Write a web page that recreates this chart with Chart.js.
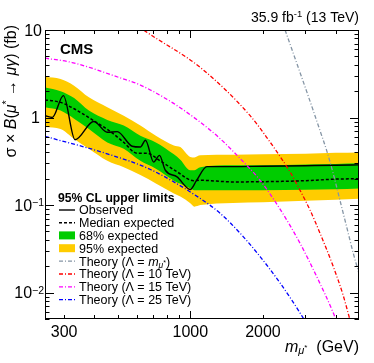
<!DOCTYPE html>
<html>
<head>
<meta charset="utf-8">
<script src="https://cdn.jsdelivr.net/npm/chart.js@4.4.1/dist/chart.umd.min.js"></script>
<style>
  html, body { margin: 0; padding: 0; background: #fff; }
</style>
</head>
<body>
<canvas id="myChart" width="374" height="363"></canvas>
<script>
// excited muon limits (GeV, fb)
const bandMass = [250, 290, 330, 380, 453, 530, 621, 720, 855, 909, 1000, 1040, 1100, 1500, 2000, 3000, 4000, 5000];
const band95Up = [2.92, 2.75, 2.31, 1.70, 1.31, 1.05, 0.81, 0.62, 0.48, 0.46, 0.355, 0.35, 0.37, 0.375, 0.38, 0.385, 0.395, 0.40];
const band68Up = [2.2, 2.0, 1.67, 1.2, 0.94, 0.81, 0.62, 0.52, 0.38, 0.33, 0.25, 0.25, 0.27, 0.285, 0.285, 0.29, 0.295, 0.30];
const band68Lo = [1.31, 1.2, 0.97, 0.74, 0.52, 0.44, 0.32, 0.26, 0.19, 0.175, 0.155, 0.148, 0.148, 0.148, 0.148, 0.15, 0.152, 0.155];
const band95Lo = [0.78, 0.74, 0.57, 0.44, 0.32, 0.27, 0.22, 0.177, 0.136, 0.125, 0.105, 0.096, 0.1, 0.106, 0.108, 0.112, 0.115, 0.118];

const medMass = [250, 290, 330, 398, 467, 530, 603, 662, 751, 881, 1032, 1100, 1500, 2000, 3000, 4000, 5000];
const medLimit = [1.59, 1.49, 1.26, 0.92, 0.69, 0.52, 0.39, 0.39, 0.32, 0.24, 0.19, 0.192, 0.184, 0.185, 0.19, 0.198, 0.20];

const obsMass = [250, 268, 298, 333, 398, 453, 498, 574, 621, 652, 705, 745, 788, 881, 1000, 1060, 1172, 1500, 2000, 3000, 4000, 5000];
const obsLimit = [1.05, 1.0, 1.78, 0.558, 0.90, 0.68, 0.69, 0.47, 0.46, 0.55, 0.31, 0.37, 0.25, 0.21, 0.151, 0.19, 0.275, 0.275, 0.278, 0.282, 0.285, 0.288];

const thMassLm = [2400, 2470, 3232, 3445, 3671, 3910, 4168, 4441, 4729, 5000];
const thLm = [12.5, 10, 1.2, 0.711, 0.422, 0.229, 0.114, 0.057, 0.0285, 0.0165];
const thMass10 = [600, 641, 1100, 1770, 2141, 2354, 2590, 2848, 3133, 3445, 3910, 4300, 4510, 4700];
const th10 = [11.5, 10, 3.73, 1.05, 0.524, 0.36, 0.239, 0.148, 0.0878, 0.048, 0.0199, 0.0093, 0.0058, 0.0038];
const thMass15 = [250, 324, 514, 621, 853, 1100, 1330, 1609, 1946, 2354, 2848, 3338, 3910, 4200];
const th15 = [4.77, 4.25, 2.83, 2.35, 1.45, 0.884, 0.573, 0.340, 0.192, 0.09, 0.0367, 0.0153, 0.00588, 0.0035];
const thMass25 = [250, 453, 684, 1100, 1330, 1609, 1946, 2354, 2848, 3100];
const th25 = [0.61, 0.385, 0.255, 0.119, 0.0805, 0.0477, 0.0258, 0.0129, 0.00588, 0.004];

const xTickLabels = [300, 1000, 2000];
const yTickLabels = [0.01, 0.1, 1, 10];

const SANS = '"Liberation Sans", Arial, Helvetica, sans-serif';
const DASHDOT = [4, 2, 1, 2];

const pts = (xs, ys) => xs.map((x, i) => ({ x: x, y: ys[i] }));

const band = (data, color, fill, order) => ({
    data: data,
    borderWidth: 0,
    borderColor: 'rgba(0,0,0,0)',
    backgroundColor: color,
    fill: fill,
    order: order,
});
const theory = (data, color) => ({
    data: data,
    borderColor: color,
    borderWidth: 1.3,
    borderDash: DASHDOT,
    fill: false,
    order: 0,
});

// draw text made of several pieces with different fonts / offsets
function drawRuns(ctx, runs, x, y, align) {
    let w = 0;
    runs.forEach(r => { ctx.font = r.font; r.w = ctx.measureText(r.t).width; w += r.w; });
    let cx = align === 'right' ? x - w : (align === 'center' ? x - w / 2 : x);
    runs.forEach(r => {
        ctx.font = r.font;
        ctx.fillText(r.t, cx, y + (r.dy || 0));
        cx += r.w;
    });
}
const f = (size, style) => (style ? style + ' ' : '') + size + 'px ' + SANS;

const theoryLabel = (lam) => lam === null
    ? [{ t: 'Theory (Λ = ', font: f(12.5) }, { t: 'm', font: f(12.5, 'italic') },
       { t: 'μ', font: f(8.5, 'italic'), dy: 2 }, { t: '*', font: f(7), dy: -1 }, { t: ')', font: f(12.5) }]
    : [{ t: 'Theory (Λ = ' + lam + ' TeV)', font: f(12.5) }];

const legendRows = [
    { ds: 5, kind: 'line', runs: [{ t: 'Observed', font: f(12.5) }] },
    { ds: 4, kind: 'line', runs: [{ t: 'Median expected', font: f(12.5) }] },
    { ds: 2, kind: 'box', runs: [{ t: '68% expected', font: f(12.5) }] },
    { ds: 0, kind: 'box', runs: [{ t: '95% expected', font: f(12.5) }] },
    { ds: 6, kind: 'line', runs: theoryLabel(null) },
    { ds: 7, kind: 'line', runs: theoryLabel(10) },
    { ds: 8, kind: 'line', runs: theoryLabel(15) },
    { ds: 9, kind: 'line', runs: theoryLabel(25) },
];

const decorations = {
    id: 'decorations',
    afterDraw(chart) {
        const ctx = chart.ctx;
        const a = chart.chartArea;
        const sx = chart.scales.x, sy = chart.scales.y;
        ctx.save();
        ctx.fillStyle = '#000';
        ctx.strokeStyle = '#000';
        ctx.lineWidth = 1;
        ctx.textBaseline = 'alphabetic';

        // frame
        ctx.strokeRect(Math.round(a.left) + 0.5, Math.round(a.top) + 0.5,
            Math.round(a.right - a.left) - 1, Math.round(a.bottom - a.top) - 1);

        // ticks, pointing inwards on all four sides
        ctx.beginPath();
        const xt = [300, 400, 500, 600, 700, 800, 900, 1000, 2000, 3000, 4000];
        xt.forEach(v => {
            const px = Math.round(sx.getPixelForValue(v)) + 0.5;
            const len = v === 1000 ? 8 : 4;
            ctx.moveTo(px, a.bottom); ctx.lineTo(px, a.bottom - len);
            ctx.moveTo(px, a.top); ctx.lineTo(px, a.top + len);
        });
        [0.001, 0.01, 0.1, 1].forEach(dec => {
            for (let k = 1; k <= 9; k++) {
                const v = dec * k;
                if (v < sy.min || v > sy.max) continue;
                const py = Math.round(sy.getPixelForValue(v)) + 0.5;
                const len = k === 1 ? 9 : 4.5;
                ctx.moveTo(a.left, py); ctx.lineTo(a.left + len, py);
                ctx.moveTo(a.right, py); ctx.lineTo(a.right - len, py);
            }
        });
        ctx.moveTo(a.left, sy.getPixelForValue(10) + 0.5); ctx.lineTo(a.left + 9, sy.getPixelForValue(10) + 0.5);
        ctx.moveTo(a.right, sy.getPixelForValue(10) + 0.5); ctx.lineTo(a.right - 9, sy.getPixelForValue(10) + 0.5);
        ctx.stroke();

        // tick labels
        xTickLabels.forEach(v => {
            drawRuns(ctx, [{ t: String(v), font: f(16) }], sx.getPixelForValue(v), 337, 'center');
        });
        yTickLabels.forEach(v => {
            const py = sy.getPixelForValue(v) + 5.7;
            if (v === 10) drawRuns(ctx, [{ t: '10', font: f(16) }], 42, py, 'right');
            else if (v === 1) drawRuns(ctx, [{ t: '1', font: f(16) }], 40, py, 'right');
            else {
                const e = Math.round(Math.log10(v));
                drawRuns(ctx, [{ t: '10', font: f(16) }, { t: '\u2212' + (-e), font: f(10.5), dy: -4.5 }], 44, py, 'right');
            }
        });

        // axis titles
        drawRuns(ctx, [
            { t: 'm', font: f(16, 'italic') },
            { t: 'μ', font: f(11, 'italic'), dy: 2 },
            { t: '*', font: f(8), dy: -2 },
            { t: '  (GeV)', font: f(16) },
        ], 359, 351.5, 'right');

        ctx.save();
        ctx.translate(16, 25);
        ctx.rotate(-Math.PI / 2);
        drawRuns(ctx, [
            { t: 'σ × ', font: f(16) },
            { t: 'B', font: f(16, 'italic') },
            { t: '(', font: f(16) },
            { t: 'μ', font: f(16, 'italic') },
            { t: '*', font: f(10.5), dy: -6.5 },
            { t: ' → ', font: f(16) },
            { t: 'μγ', font: f(16, 'italic') },
            { t: ') (fb)', font: f(16) },
        ], 0, 0, 'right');
        ctx.restore();

        // header texts
        drawRuns(ctx, [
            { t: '35.9 fb', font: f(14) },
            { t: '-1', font: f(9.5), dy: -5 },
            { t: ' (13 TeV)', font: f(14) },
        ], 359, 22, 'right');
        drawRuns(ctx, [{ t: 'CMS', font: f(15, 'bold') }], 60, 53.5, 'left');

        // legend
        drawRuns(ctx, [{ t: '95% CL upper limits', font: f(12.2, 'bold') }], 58, 201.7, 'left');
        legendRows.forEach((row, i) => {
            const base = 214.3 + i * 12.8;
            const ds = chart.data.datasets[row.ds];
            if (row.kind === 'box') {
                ctx.fillStyle = ds.backgroundColor;
                ctx.fillRect(59, base - 8.5, 16, 8);
            } else {
                ctx.save();
                ctx.strokeStyle = ds.borderColor;
                ctx.lineWidth = ds.borderWidth;
                ctx.setLineDash(ds.borderDash || []);
                ctx.beginPath();
                ctx.moveTo(59, base - 4.3);
                ctx.lineTo(75, base - 4.3);
                ctx.stroke();
                ctx.restore();
            }
            ctx.fillStyle = '#000';
            drawRuns(ctx, row.runs, 79, base, 'left');
        });
        ctx.restore();
    }
};

new Chart(document.getElementById('myChart'), {
    type: 'line',
    data: {
        datasets: [
            band(pts(bandMass, band95Up), '#ffcc00', '+1', 5),
            band(pts(bandMass, band95Lo), '#ffcc00', false, 5),
            band(pts(bandMass, band68Up), '#00cc00', '+1', 4),
            band(pts(bandMass, band68Lo), '#00cc00', false, 4),
            {
                data: pts(medMass, medLimit),
                borderColor: '#000',
                borderWidth: 1.5,
                borderDash: [3, 2],
                fill: false,
                order: 2,
            },
            {
                data: pts(obsMass, obsLimit),
                borderColor: '#000',
                borderWidth: 1.4,
                fill: false,
                order: 1,
            },
            theory(pts(thMassLm, thLm), '#8595a5'),
            theory(pts(thMass10, th10), '#ff0000'),
            theory(pts(thMass15, th15), '#ff00ff'),
            theory(pts(thMass25, th25), '#0000ff'),
        ]
    },
    options: {
        responsive: false,
        animation: false,
        devicePixelRatio: 1,
        layout: { padding: { left: 45, right: 15, top: 30, bottom: 44 } },
        elements: {
            point: { radius: 0 },
            line: { cubicInterpolationMode: 'monotone' }
        },
        scales: {
            x: { type: 'logarithmic', min: 250, max: 5000, display: false },
            y: { type: 'logarithmic', min: 0.005, max: 10, display: false }
        },
        plugins: {
            legend: { display: false },
            tooltip: { enabled: false },
        }
    },
    plugins: [decorations]
});
</script>
</body>
</html>
